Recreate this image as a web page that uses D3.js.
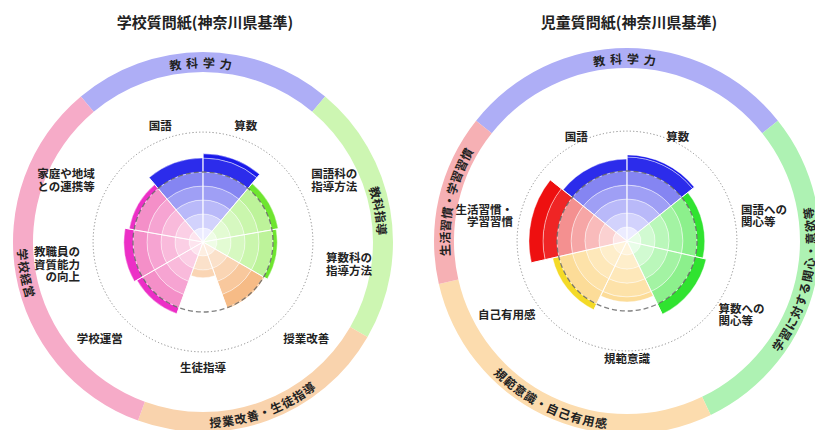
<!DOCTYPE html>
<meta charset="utf-8">
<style>
  body { margin: 0; background: #fff; }
  text { font-family: "Noto Sans CJK JP", "Noto Sans", sans-serif; fill: #222; }
</style>
<body>
<script src="https://cdn.jsdelivr.net/npm/d3@7"></script>
<script>

// 学校質問紙 : 100 = 神奈川県基準
var schoolLabels = ["国語", "算数", "国語科の\n指導方法", "算数科の\n指導方法", "授業改善",
                    "生徒指導", "学校運営", "教職員の\n資質能力\nの向上", "家庭や地域\nとの連携等"];
var schoolValues = [120, 126, 109, 106, 101, 51, 109, 113, 107];
var schoolGroups = ["教科学力", "教科指導", "授業改善・生徒指導", "学校経営"];
var schoolGroupSizes = [2, 2, 2, 3];

// 児童質問紙 : 100 = 神奈川県基準
var pupilLabels = ["国語", "算数", "国語への\n関心等", "算数への\n関心等", "規範意識",
                   "自己有用感", "生活習慣・\n学習習慣"];
var pupilValues = [117, 123, 111, 116, 87, 109, 140];
var pupilGroups = ["教科学力", "学習に対する関心・意欲等", "規範意識・自己有用感", "生活習慣・学習習慣"];
var pupilGroupSizes = [2, 2, 2, 1];

var width = 815, height = 430;

var svg = d3.select("body").append("svg")
  .attr("width", width)
  .attr("height", height);

// value -> radius, 100 (基準) sits on the dashed circle
var r = d3.scaleLinear().domain([0, 100]).range([0, 70]);
var ringStep = 20,      // concentric bands every 20 points
    outerMax = 157;     // dotted guide circle

var rad = Math.PI / 180;

function pt(radius, deg) {
  return [radius * Math.sin(deg * rad), -radius * Math.cos(deg * rad)];
}

function arcPath(radius, a0, a1) {
  var p0 = pt(radius, a0), p1 = pt(radius, a1);
  var sweep = a1 > a0 ? 1 : 0,
      large = Math.abs(a1 - a0) > 180 ? 1 : 0;
  return "M" + p0 + "A" + radius + "," + radius + " 0 " + large + " " + sweep + " " + p1;
}

function drawChart(id, cx, cy, title, labels, values, groups, sizes, opt) {
  var n = labels.length,
      step = 360 / n,
      start = -step;

  svg.append("text")
    .attr("x", cx + 2).attr("y", 21)
    .attr("text-anchor", "middle")
    .attr("dominant-baseline", "central")
    .style("font-size", "15px")
    .style("font-weight", 700)
    .text(title);

  var g = svg.append("g").attr("transform", "translate(" + cx + "," + cy + ")");

  // group index of every item
  var groupOf = [];
  sizes.forEach(function(s, gi) { for (var k = 0; k < s; k++) groupOf.push(gi); });

  // outer band with group names
  var ringArc = d3.arc().innerRadius(opt.ringIn).outerRadius(opt.ringOut);
  var textR = (opt.ringIn + opt.ringOut) / 2;
  var acc = 0;
  groups.forEach(function(name, gi) {
    var a0 = start + acc * step, a1 = start + (acc + sizes[gi]) * step;
    acc += sizes[gi];
    g.append("path")
      .attr("d", ringArc({startAngle: a0 * rad, endAngle: a1 * rad}))
      .attr("fill", opt.ringFill[gi]);

    var pid = id + "-ring-" + gi;
    g.append("path")
      .attr("id", pid)
      .attr("fill", "none")
      .attr("d", opt.textDir[gi] > 0 ? arcPath(textR, a0, a1) : arcPath(textR, a1, a0));
    g.append("text")
      .style("font-size", "12px")
      .style("font-weight", 700)
      .style("letter-spacing", gi === 0 ? "5px" : "0.5px")
      .append("textPath")
        .attr("href", "#" + pid)
        .attr("startOffset", "50%")
        .attr("text-anchor", "middle")
        .attr("dominant-baseline", "central")
        .text(name);
  });

  // dotted guide circle
  g.append("circle")
    .attr("r", r(outerMax))
    .attr("fill", "none")
    .attr("stroke", "#8a8a8a")
    .attr("stroke-width", 1)
    .attr("stroke-dasharray", "1.2,2.2");

  // sectors built from concentric bands
  var sectorArc = d3.arc();
  values.forEach(function(v, i) {
    var a0 = start + i * step, a1 = a0 + step;
    var pal = opt.palette[groupOf[i]];
    var shade = d3.scaleLinear().domain([1, 5, 6.2]).range(pal).clamp(true);
    var bands = Math.ceil(v / ringStep);
    for (var k = 1; k <= bands; k++) {
      g.append("path")
        .attr("d", sectorArc({
          innerRadius: r((k - 1) * ringStep),
          outerRadius: r(Math.min(k * ringStep, v)),
          startAngle: a0 * rad,
          endAngle: a1 * rad
        }))
        .attr("fill", shade(k))
        .attr("stroke", "#fff")
        .attr("stroke-opacity", 0.5)
        .attr("stroke-width", 0.8);
    }
  });

  // radial separators
  values.forEach(function(v, i) {
    var a = start + i * step;
    var reach = Math.max(v, values[(i - 1 + n) % n]);
    var p = pt(r(reach), a);
    g.append("line")
      .attr("x1", 0).attr("y1", 0)
      .attr("x2", p[0]).attr("y2", p[1])
      .attr("stroke", "#fff")
      .attr("stroke-width", 1);
  });

  // 基準 circle
  g.append("circle")
    .attr("r", r(100))
    .attr("fill", "none")
    .attr("stroke", "#555")
    .attr("stroke-opacity", 0.75)
    .attr("stroke-width", 1.3)
    .attr("stroke-dasharray", "5,3");

  // item labels
  labels.forEach(function(lab, i) {
    var mid = start + (i + 0.5) * step;
    var p = pt(opt.labelR, mid);
    var s = Math.sin(mid * rad);
    var anchor = s > 0.45 ? "start" : (s < -0.45 ? "end" : "middle");
    var lines = lab.split("\n"), lh = 12.5;
    var t = g.append("text")
      .attr("text-anchor", anchor)
      .attr("dominant-baseline", "central")
      .style("font-size", "11.5px")
      .style("font-weight", 700);
    lines.forEach(function(line, j) {
      t.append("tspan")
        .attr("x", p[0])
        .attr("y", p[1] - (lines.length - 1) * lh / 2 + j * lh)
        .text(line);
    });
  });
}

drawChart("school", 203, 242, "学校質問紙(神奈川県基準)",
  schoolLabels, schoolValues, schoolGroups, schoolGroupSizes, {
    ringIn: 170, ringOut: 190, labelR: 125,
    ringFill: ["#aeaef6", "#cdf6b2", "#f9d3ad", "#f6abc8"],
    textDir: [1, 1, -1, -1],
    palette: [
      ["#ececff", "#8585f2", "#1a1aea"],
      ["#effde6", "#bdf39a", "#5ee21a"],
      ["#fdeee1", "#f6bb86", "#ee8a2c"],
      ["#fde4ee", "#f48fc8", "#ea1cc6"]
    ]
  });

drawChart("pupil", 627, 241, "児童質問紙(神奈川県基準)",
  pupilLabels, pupilValues, pupilGroups, pupilGroupSizes, {
    ringIn: 173, ringOut: 193, labelR: 117,
    ringFill: ["#aeaef6", "#aef2b3", "#fcdcae", "#f6b0b4"],
    textDir: [1, -1, -1, 1],
    palette: [
      ["#ececff", "#8585f2", "#1a1aea"],
      ["#e8fde8", "#8cf08c", "#1ee01e"],
      ["#fff4dc", "#fcdc98", "#f2da10"],
      ["#fde6e6", "#f49090", "#ee1010"]
    ]
  });

</script>
